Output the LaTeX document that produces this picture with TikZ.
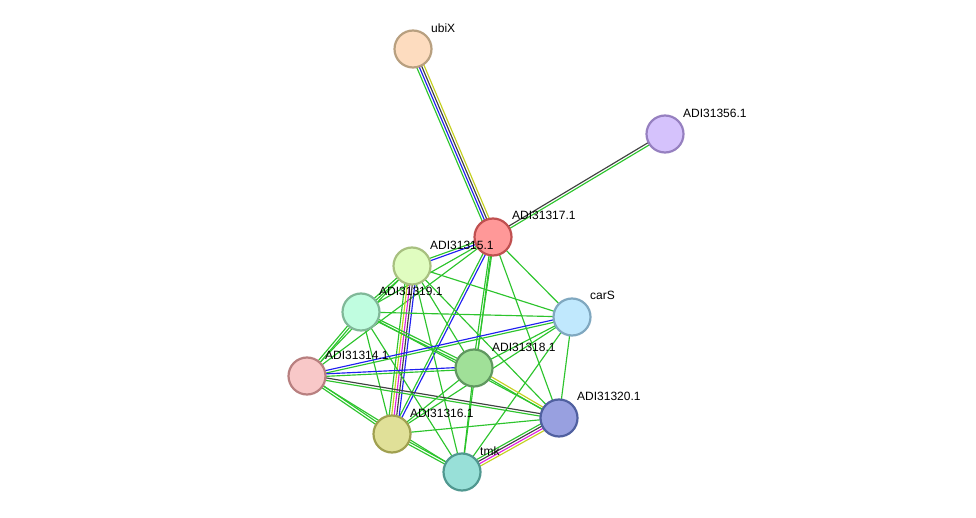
\documentclass[tikz,border=0pt]{standalone}
\usepackage{fontspec}
\setmainfont{Liberation Sans}
\usetikzlibrary{calc}
\pgfdeclarelayer{bg}
\pgfsetlayers{bg,main}
\definecolor{eg}{HTML}{2DC42D}
\definecolor{eb}{HTML}{2020F0}
\definecolor{ek}{HTML}{404040}
\definecolor{ey}{HTML}{C4D020}
\definecolor{em}{HTML}{E020E0}
\definecolor{fubiX}{RGB}{253,220,191}\definecolor{dubiX}{RGB}{184,160,128}
\definecolor{fa}{RGB}{213,194,252}\definecolor{da}{RGB}{150,128,192}
\definecolor{fb}{RGB}{255,152,152}\definecolor{db}{RGB}{192,80,80}
\definecolor{fc}{RGB}{224,253,192}\definecolor{dc}{RGB}{168,192,128}
\definecolor{fd}{RGB}{192,253,224}\definecolor{dd}{RGB}{128,184,152}
\definecolor{fe}{RGB}{192,232,253}\definecolor{de}{RGB}{128,168,192}
\definecolor{ff}{RGB}{248,200,200}\definecolor{df}{RGB}{184,128,128}
\definecolor{fg}{RGB}{160,224,152}\definecolor{dg}{RGB}{96,152,96}
\definecolor{fh}{RGB}{152,160,224}\definecolor{dh}{RGB}{80,96,160}
\definecolor{fi}{RGB}{224,224,152}\definecolor{di}{RGB}{160,160,80}
\definecolor{fj}{RGB}{152,224,216}\definecolor{dj}{RGB}{80,152,144}
\tikzset{
  prot/.style={circle, draw, line width=2.2pt, minimum size=37pt, inner sep=0pt},
  lab/.style={anchor=west, font=\fontsize{12pt}{12pt}\selectfont, text=black, inner sep=0pt},
}
\newcommand\edg[3]{%
  \begin{pgfonlayer}{bg}
  \foreach \c [count=\i] in {#3} {\xdef\nn{\i}}
  \foreach \c [count=\i] in {#3} {
    \pgfmathsetmacro\off{(\i-(\nn+1)/2)*2.5}
    \draw[\c, line width=1.15pt] ($(#1)!\off pt!90:(#2)$) -- ($(#2)!\off pt!-90:(#1)$);
  }
  \end{pgfonlayer}}
\begin{document}
\begin{tikzpicture}[x=1pt,y=-1pt]
\useasboundingbox (0,0) rectangle (976,518);
\node[prot, fill=fubiX, draw=dubiX] (ubiX) at (413,49) {};
\node[prot, fill=fa, draw=da] (p356) at (665,134) {};
\node[prot, fill=fb, draw=db] (p317) at (493,237) {};
\node[prot, fill=fc, draw=dc] (p315) at (412,266) {};
\node[prot, fill=fd, draw=dd] (p319) at (361,312) {};
\node[prot, fill=fe, draw=de] (carS) at (572,317) {};
\node[prot, fill=ff, draw=df] (p314) at (307,376) {};
\node[prot, fill=fg, draw=dg] (p318) at (474,368) {};
\node[prot, fill=fh, draw=dh] (p320) at (559,418) {};
\node[prot, fill=fi, draw=di] (p316) at (392,434) {};
\node[prot, fill=fj, draw=dj] (tmk) at (462,472) {};
\edg{ubiX}{p317}{eg,eb,ek,ey}
\edg{p356}{p317}{ek,eg}
\edg{p317}{p315}{eg,eb}
\edg{p317}{p319}{eg}
\edg{p317}{p314}{eg}
\edg{p317}{p316}{eg,eb}
\edg{p317}{p318}{eg,eg}
\edg{p317}{tmk}{eg}
\edg{p317}{carS}{eg}
\edg{p317}{p320}{eg}
\edg{p315}{p319}{eg,eg}
\edg{p315}{p314}{eg}
\edg{p315}{p316}{eg,ey,em,ek,eb}
\edg{p315}{carS}{eg}
\edg{p315}{p318}{eg}
\edg{p315}{p320}{eg}
\edg{p315}{tmk}{eg}
\edg{p319}{carS}{eg}
\edg{p319}{p318}{eg,eg}
\edg{p319}{p320}{eg}
\edg{p319}{p314}{eg,eg}
\edg{p319}{p316}{eg}
\edg{p319}{tmk}{eg}
\edg{p314}{carS}{eg,eb}
\edg{p314}{p318}{eg,eb}
\edg{p314}{p320}{eg,ek}
\edg{p314}{p316}{eg,eg}
\edg{p314}{tmk}{eg}
\edg{carS}{p318}{eg}
\edg{carS}{p320}{eg}
\edg{carS}{tmk}{eg}
\edg{carS}{p316}{eg}
\edg{p318}{p320}{eg,ey}
\edg{p318}{p316}{eg}
\edg{p318}{tmk}{eg}
\edg{p320}{p316}{eg}
\edg{p320}{tmk}{eg,ek,em,ey}
\edg{p316}{tmk}{eg,eg}
\node[lab] (lubiX) at (431,28) {ubiX};
\node[lab] (l356) at (683,113) {ADI31356.1};
\node[lab] (l317) at (512,215) {ADI31317.1};
\node[lab] (l315) at (430,245) {ADI31315.1};
\node[lab] (l319) at (379,291) {ADI31319.1};
\node[lab] (lcarS) at (590,295) {carS};
\node[lab] (l314) at (325,355) {ADI31314.1};
\node[lab] (l318) at (492,347) {ADI31318.1};
\node[lab] (l320) at (577,396) {ADI31320.1};
\node[lab] (l316) at (410,413) {ADI31316.1};
\node[lab] (ltmk) at (480,451) {tmk};
\end{tikzpicture}
\end{document}
